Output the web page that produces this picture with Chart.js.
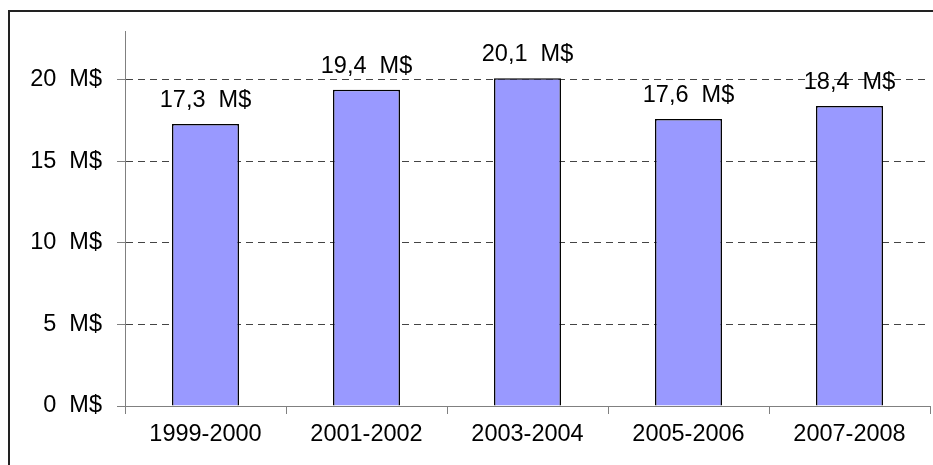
<!DOCTYPE html>
<html>
<head>
<meta charset="utf-8">
<script src="https://cdn.jsdelivr.net/npm/chart.js@4/dist/chart.umd.min.js"></script>
<style>
html,body{margin:0;padding:0;background:#fff;}
canvas{display:block;}
</style>
</head>
<body>
<canvas id="c" width="933" height="465"></canvas>
<script>
const categories = ["1999-2000", "2001-2002", "2003-2004", "2005-2006", "2007-2008"];
const values = [17.3, 19.4, 20.1, 17.6, 18.4];
const yTickValues = [0, 5, 10, 15, 20];
const unit = "M$";

const FONT = "'Liberation Sans', Arial, sans-serif";
const FSIZE = 23.5;
const fmt = v => v.toFixed(1).replace('.', ',') + "\u00a0\u00a0" + unit;

const framePlugin = {
  id: 'frame',
  beforeDraw(chart) {
    const ctx = chart.ctx;
    ctx.save();
    ctx.fillStyle = '#fff';
    ctx.fillRect(0, 0, chart.width, chart.height);
    ctx.strokeStyle = '#222';
    ctx.lineWidth = 2;
    ctx.beginPath();
    ctx.moveTo(9, chart.height);
    ctx.lineTo(9, 11);
    ctx.lineTo(chart.width, 11);
    ctx.stroke();
    ctx.restore();
  }
};

const labelPlugin = {
  id: 'barLabels',
  afterDatasetsDraw(chart) {
    const ctx = chart.ctx;
    const meta = chart.getDatasetMeta(0);
    ctx.save();
    ctx.font = FSIZE + "px " + FONT;
    ctx.fillStyle = '#000';
    ctx.textAlign = 'center';
    ctx.textBaseline = 'alphabetic';
    meta.data.forEach((bar, i) => {
      ctx.fillText(fmt(values[i]), bar.x, bar.y - 17);
    });
    ctx.restore();
  }
};

new Chart(document.getElementById('c'), {
  type: 'bar',
  data: {
    labels: categories,
    datasets: [{
      data: values,
      backgroundColor: '#9999FF',
      borderColor: '#000',
      borderWidth: 1.5,
      barPercentage: 0.416,
      categoryPercentage: 1.0
    }]
  },
  plugins: [framePlugin, labelPlugin],
  options: {
    responsive: false,
    animation: false,
    devicePixelRatio: 1,
    layout: { padding: { top: 31, right: 3, left: 0, bottom: 0 } },
    plugins: { legend: { display: false }, tooltip: { enabled: false } },
    scales: {
      x: {
        offset: true,
        grid: {
          offset: true,
          drawOnChartArea: false,
          drawTicks: true,
          tickLength: 8,
          tickColor: '#808080',
          tickWidth: 1
        },
        border: { display: true, color: '#808080', width: 1 },
        ticks: {
          color: '#000',
          font: { family: FONT, size: FSIZE },
          padding: 6,
          maxRotation: 0
        },
        afterFit(s) { s.height = 59; }
      },
      y: {
        min: 0,
        max: 23,
        afterBuildTicks(s) { s.ticks = yTickValues.map(v => ({ value: v })); },
        grid: {
          color: ctx => (ctx.tick && ctx.tick.value === 0) ? 'rgba(0,0,0,0)' : '#444',
          lineWidth: 1,
          drawTicks: true,
          tickLength: 8,
          tickColor: '#808080',
          tickWidth: 1,
          tickBorderDash: []
        },
        border: { display: true, color: '#808080', width: 1, dash: [7, 5] },
        ticks: {
          color: '#000',
          font: { family: FONT, size: FSIZE },
          padding: 15,
          callback: v => v + "\u00a0\u00a0" + unit
        },
        afterFit(s) { s.width = 125; }
      }
    }
  }
});
</script>
</body>
</html>
